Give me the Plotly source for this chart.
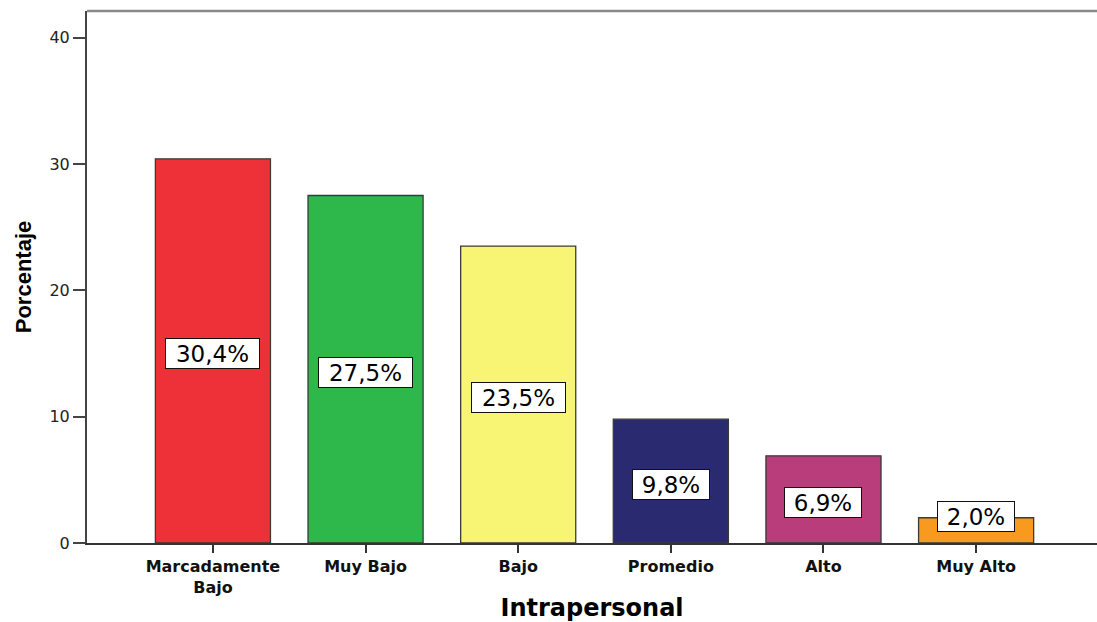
import plotly.graph_objects as go

categories = ["Marcadamente<br>Bajo", "Muy Bajo", "Bajo", "Promedio", "Alto", "Muy Alto"]
values = [30.4, 27.5, 23.5, 9.8, 6.9, 2.0]
labels = ["30,4%", "27,5%", "23,5%", "9,8%", "6,9%", "2,0%"]
colors = ["#EE3039", "#2EB84B", "#F9F574", "#292A70", "#BA3D7B", "#F89A1E"]
y_ticks = [0, 10, 20, 30, 40]

fig = go.Figure()
fig.add_trace(go.Bar(
    x=categories, y=values,
    marker=dict(color=colors, line=dict(color="#3a3a3a", width=1.3)),
    width=0.754, showlegend=False, hoverinfo="skip",
))

for c, v, t in zip(categories, values, labels):
    fig.add_annotation(
        x=c, y=max(v / 2, 2.3), yshift=-3, text=t, showarrow=False,
        font=dict(family="DejaVu Sans", size=23, color="#000"),
        bgcolor="white", bordercolor="#111", borderwidth=1,
        width=76 if len(t) == 4 else 93, height=29, borderpad=0,
        xref="x", yref="y",
    )

# top frame line
fig.add_shape(type="line", xref="paper", yref="paper", x0=0, x1=1, y0=1, y1=1,
              line=dict(color="#8a8a8a", width=2.5))

fig.update_layout(
    width=1097, height=622,
    margin=dict(l=87, r=0, t=11, b=79),
    plot_bgcolor="white", paper_bgcolor="white",
    xaxis=dict(
        range=[-0.825, 5.792],
        showline=True, linecolor="#333", linewidth=1.5,
        ticks="outside", ticklen=8, tickwidth=1.5, tickcolor="#333",
        tickfont=dict(family="DejaVu Sans", size=16, color="#111", weight="bold"),
        showgrid=False, zeroline=False,
        title=dict(text="Intrapersonal", font=dict(family="DejaVu Sans", size=24, color="#000", weight="bold"), standoff=6),
    ),
    yaxis=dict(
        range=[0, 42.1],
        tickvals=y_ticks,
        showline=True, linecolor="#444", linewidth=2,
        ticks="outside", ticklen=12, tickwidth=1.5, tickcolor="#444",
        tickfont=dict(family="DejaVu Sans", size=16, color="#222"),
        showgrid=False, zeroline=False,
        title=dict(text="Porcentaje", font=dict(family="Liberation Sans", size=22, color="#000", weight="bold"), standoff=12),
    ),
    bargap=0.246,
)

fig.write_html("out.html", config={"displayModeBar": False},
               post_script="document.body.style.margin='0';document.body.style.overflow='hidden';")
